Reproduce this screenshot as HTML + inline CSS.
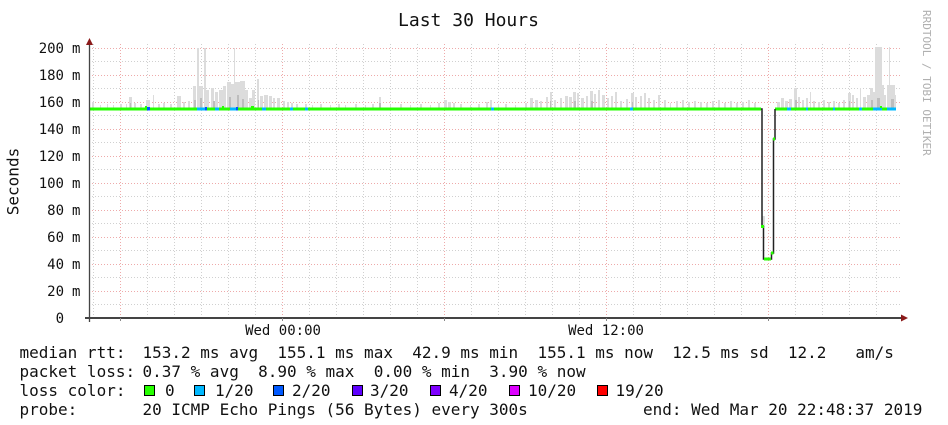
<!DOCTYPE html>
<html><head><meta charset="utf-8"><style>
html,body{margin:0;padding:0;background:#fff;}
svg{display:block;}
text{font-family:"DejaVu Sans Mono","Liberation Mono",monospace;fill:#111;}
</style></head><body>
<svg width="948" height="425" viewBox="0 0 948 425" xmlns="http://www.w3.org/2000/svg">
<rect width="948" height="425" fill="#fff"/>
<text x="468.5" y="26" font-size="18" text-anchor="middle">Last 30 Hours</text>
<text transform="translate(923,10) rotate(90)" font-size="11" style="fill:#b0b0b0">RRDTOOL / TOBI OETIKER</text>
<text transform="translate(18.5,181.5) rotate(-90)" font-size="16" text-anchor="middle">Seconds</text>

<!-- minor horizontal grid -->
<g stroke="#d0d0d0" stroke-width="1" stroke-dasharray="1 2">
<line x1="89" x2="902" y1="304.5" y2="304.5"/><line x1="89" x2="902" y1="277.5" y2="277.5"/><line x1="89" x2="902" y1="250.5" y2="250.5"/><line x1="89" x2="902" y1="223.5" y2="223.5"/><line x1="89" x2="902" y1="196.5" y2="196.5"/><line x1="89" x2="902" y1="169.5" y2="169.5"/><line x1="89" x2="902" y1="142.5" y2="142.5"/><line x1="89" x2="902" y1="115.5" y2="115.5"/><line x1="89" x2="902" y1="88.5" y2="88.5"/><line x1="89" x2="902" y1="61.5" y2="61.5"/>
</g>
<!-- minor vertical grid -->
<g stroke="#d0d0d0" stroke-width="1" stroke-dasharray="1 2">
<line x1="93.5" x2="93.5" y1="44" y2="318"/><line x1="147.5" x2="147.5" y1="44" y2="318"/><line x1="174.5" x2="174.5" y1="44" y2="318"/><line x1="201.5" x2="201.5" y1="44" y2="318"/><line x1="228.5" x2="228.5" y1="44" y2="318"/><line x1="255.5" x2="255.5" y1="44" y2="318"/><line x1="309.5" x2="309.5" y1="44" y2="318"/><line x1="336.5" x2="336.5" y1="44" y2="318"/><line x1="363.5" x2="363.5" y1="44" y2="318"/><line x1="390.5" x2="390.5" y1="44" y2="318"/><line x1="417.5" x2="417.5" y1="44" y2="318"/><line x1="471.5" x2="471.5" y1="44" y2="318"/><line x1="498.5" x2="498.5" y1="44" y2="318"/><line x1="525.5" x2="525.5" y1="44" y2="318"/><line x1="552.5" x2="552.5" y1="44" y2="318"/><line x1="579.5" x2="579.5" y1="44" y2="318"/><line x1="633.5" x2="633.5" y1="44" y2="318"/><line x1="660.5" x2="660.5" y1="44" y2="318"/><line x1="687.5" x2="687.5" y1="44" y2="318"/><line x1="714.5" x2="714.5" y1="44" y2="318"/><line x1="741.5" x2="741.5" y1="44" y2="318"/><line x1="795.5" x2="795.5" y1="44" y2="318"/><line x1="822.5" x2="822.5" y1="44" y2="318"/><line x1="849.5" x2="849.5" y1="44" y2="318"/><line x1="876.5" x2="876.5" y1="44" y2="318"/>
</g>
<!-- major grid -->
<g stroke="#eeaaaa" stroke-width="1" stroke-dasharray="1 2">
<line x1="89" x2="902" y1="291.5" y2="291.5"/><line x1="89" x2="902" y1="264.5" y2="264.5"/><line x1="89" x2="902" y1="237.5" y2="237.5"/><line x1="89" x2="902" y1="210.5" y2="210.5"/><line x1="89" x2="902" y1="183.5" y2="183.5"/><line x1="89" x2="902" y1="156.5" y2="156.5"/><line x1="89" x2="902" y1="129.5" y2="129.5"/><line x1="89" x2="902" y1="102.5" y2="102.5"/><line x1="89" x2="902" y1="75.5" y2="75.5"/><line x1="89" x2="902" y1="48.5" y2="48.5"/>
<line x1="120.5" x2="120.5" y1="44" y2="318"/><line x1="282.5" x2="282.5" y1="44" y2="318"/><line x1="444.5" x2="444.5" y1="44" y2="318"/><line x1="606.5" x2="606.5" y1="44" y2="318"/><line x1="768.5" x2="768.5" y1="44" y2="318"/>
</g>

<!-- smoke -->
<g fill="#dcdcdc">
<rect x="92" y="102" width="2" height="7"/><rect x="100" y="105" width="1" height="4"/><rect x="107" y="104" width="1" height="5"/><rect x="113" y="105" width="1" height="4"/><rect x="120" y="104" width="2" height="5"/><rect x="126" y="104" width="1" height="5"/><rect x="129" y="97" width="3" height="12"/><rect x="134" y="103" width="2" height="6"/><rect x="140" y="104" width="2" height="5"/><rect x="146" y="100" width="4" height="9"/><rect x="153" y="95" width="1" height="14"/><rect x="158" y="104" width="2" height="5"/><rect x="163" y="103" width="2" height="6"/><rect x="170" y="104" width="2" height="5"/><rect x="177" y="96" width="4" height="13"/><rect x="183" y="102" width="2" height="7"/><rect x="188" y="101" width="2" height="8"/><rect x="193" y="86" width="3" height="23"/><rect x="197" y="48" width="2" height="61"/><rect x="199" y="86" width="4" height="23"/><rect x="204" y="48" width="2" height="61"/><rect x="206" y="90" width="3" height="19"/><rect x="211" y="88" width="3" height="21"/><rect x="215" y="92" width="3" height="17"/><rect x="219" y="90" width="4" height="19"/><rect x="223" y="86" width="3" height="23"/><rect x="227" y="82" width="4" height="27"/><rect x="231" y="84" width="3" height="25"/><rect x="234" y="48" width="1" height="61"/><rect x="235" y="82" width="5" height="27"/><rect x="240" y="81" width="5" height="28"/><rect x="245" y="90" width="3" height="19"/><rect x="249" y="98" width="3" height="11"/><rect x="252" y="90" width="3" height="19"/><rect x="257" y="79" width="2" height="30"/><rect x="260" y="96" width="3" height="13"/><rect x="264" y="95" width="4" height="14"/><rect x="269" y="96" width="3" height="13"/><rect x="273" y="98" width="2" height="11"/><rect x="277" y="98" width="3" height="11"/><rect x="283" y="101" width="2" height="8"/><rect x="287" y="102" width="2" height="7"/><rect x="291" y="103" width="2" height="6"/><rect x="296" y="104" width="2" height="5"/>
<rect x="305" y="104" width="2" height="5"/><rect x="312" y="105" width="1" height="4"/><rect x="320" y="104" width="2" height="5"/><rect x="330" y="105" width="1" height="4"/><rect x="338" y="104" width="2" height="5"/><rect x="345" y="105" width="1" height="4"/><rect x="355" y="104" width="2" height="5"/><rect x="365" y="105" width="1" height="4"/><rect x="372" y="104" width="2" height="5"/><rect x="379" y="97" width="2" height="12"/><rect x="390" y="105" width="1" height="4"/><rect x="400" y="104" width="2" height="5"/><rect x="410" y="105" width="1" height="4"/><rect x="420" y="104" width="2" height="5"/><rect x="430" y="105" width="1" height="4"/><rect x="438" y="103" width="2" height="6"/><rect x="444" y="100" width="3" height="9"/><rect x="448" y="102" width="3" height="7"/><rect x="453" y="103" width="2" height="6"/><rect x="460" y="104" width="2" height="5"/><rect x="470" y="105" width="1" height="4"/><rect x="478" y="104" width="2" height="5"/><rect x="486" y="102" width="2" height="7"/><rect x="490" y="100" width="2" height="9"/><rect x="498" y="104" width="1" height="5"/><rect x="505" y="104" width="2" height="5"/><rect x="515" y="105" width="1" height="4"/><rect x="525" y="103" width="2" height="6"/><rect x="530" y="98" width="3" height="11"/><rect x="535" y="100" width="3" height="9"/><rect x="540" y="101" width="2" height="8"/><rect x="546" y="97" width="2" height="12"/><rect x="550" y="92" width="2" height="17"/><rect x="554" y="100" width="2" height="9"/><rect x="560" y="98" width="2" height="11"/><rect x="565" y="96" width="3" height="13"/><rect x="569" y="97" width="3" height="12"/><rect x="573" y="92" width="3" height="17"/><rect x="577" y="93" width="2" height="16"/><rect x="581" y="98" width="3" height="11"/><rect x="586" y="96" width="2" height="13"/><rect x="590" y="91" width="3" height="18"/><rect x="594" y="94" width="2" height="15"/><rect x="598" y="90" width="2" height="19"/><rect x="602" y="95" width="3" height="14"/><rect x="607" y="98" width="2" height="11"/><rect x="611" y="96" width="2" height="13"/><rect x="615" y="92" width="2" height="17"/><rect x="620" y="101" width="2" height="8"/><rect x="626" y="99" width="2" height="10"/><rect x="631" y="93" width="3" height="16"/><rect x="635" y="97" width="2" height="12"/><rect x="640" y="96" width="2" height="13"/><rect x="644" y="93" width="2" height="16"/><rect x="648" y="98" width="2" height="11"/><rect x="653" y="100" width="2" height="9"/><rect x="658" y="95" width="2" height="14"/><rect x="664" y="100" width="2" height="9"/><rect x="670" y="103" width="1" height="6"/><rect x="676" y="101" width="2" height="8"/><rect x="682" y="100" width="2" height="9"/><rect x="688" y="102" width="2" height="7"/><rect x="694" y="101" width="2" height="8"/><rect x="700" y="102" width="2" height="7"/><rect x="706" y="103" width="2" height="6"/><rect x="712" y="101" width="2" height="8"/><rect x="718" y="100" width="2" height="9"/><rect x="724" y="103" width="2" height="6"/><rect x="730" y="101" width="2" height="8"/><rect x="736" y="103" width="2" height="6"/><rect x="742" y="102" width="2" height="7"/><rect x="748" y="100" width="2" height="9"/><rect x="754" y="103" width="2" height="6"/>
<rect x="762" y="216" width="3" height="11"/>
<rect x="777" y="102" width="3" height="7"/><rect x="781" y="98" width="3" height="11"/><rect x="785" y="101" width="3" height="8"/><rect x="789" y="99" width="3" height="10"/><rect x="794" y="88" width="3" height="21"/><rect x="798" y="97" width="2" height="12"/><rect x="802" y="100" width="2" height="9"/><rect x="806" y="98" width="2" height="11"/><rect x="810" y="92" width="1" height="17"/><rect x="813" y="101" width="2" height="8"/><rect x="818" y="102" width="2" height="7"/><rect x="823" y="100" width="2" height="9"/><rect x="828" y="102" width="2" height="7"/><rect x="833" y="101" width="2" height="8"/><rect x="838" y="103" width="2" height="6"/><rect x="843" y="100" width="2" height="9"/><rect x="848" y="93" width="3" height="16"/><rect x="852" y="95" width="2" height="14"/><rect x="856" y="98" width="2" height="11"/><rect x="860" y="88" width="1" height="21"/><rect x="863" y="97" width="3" height="12"/><rect x="867" y="95" width="3" height="14"/><rect x="870" y="88" width="3" height="21"/><rect x="873" y="92" width="2" height="17"/><rect x="875" y="47" width="7" height="62"/><rect x="882" y="85" width="2" height="24"/><rect x="884" y="95" width="2" height="14"/><rect x="887" y="85" width="2" height="24"/><rect x="889" y="47" width="1" height="62"/><rect x="890" y="85" width="5" height="24"/><rect x="895" y="95" width="1" height="14"/>
</g>
<g fill="#bdbdbd">
<rect x="194" y="100" width="2" height="9"/><rect x="200" y="98" width="2" height="11"/><rect x="229" y="97" width="2" height="12"/><rect x="237" y="95" width="2" height="14"/><rect x="242" y="99" width="2" height="10"/><rect x="213" y="101" width="2" height="8"/><rect x="258" y="100" width="1" height="9"/><rect x="574" y="101" width="2" height="8"/><rect x="591" y="101" width="2" height="8"/><rect x="632" y="102" width="1" height="7"/><rect x="795" y="100" width="2" height="9"/><rect x="871" y="100" width="2" height="9"/><rect x="877" y="98" width="3" height="11"/><rect x="891" y="99" width="3" height="10"/><rect x="130" y="103" width="1" height="6"/><rect x="379" y="103" width="2" height="6"/><rect x="550" y="101" width="1" height="8"/><rect x="849" y="101" width="1" height="8"/>
</g>

<!-- median line -->
<g fill="#26ff00">
<rect x="90" y="107.5" width="671" height="3"/>
<rect x="775" y="107.5" width="121" height="3"/>
</g>
<g fill="#00b8ff">
<rect x="197" y="107.5" width="8" height="3"/><rect x="215" y="107.5" width="4" height="3"/><rect x="230" y="107.5" width="6" height="3"/><rect x="262" y="107.5" width="4" height="3"/><rect x="290" y="107.5" width="3" height="3"/><rect x="305" y="107.5" width="3" height="3"/><rect x="491" y="107.5" width="3" height="3"/><rect x="630" y="107.5" width="3" height="3"/><rect x="787" y="107.5" width="4" height="3"/><rect x="806" y="107.5" width="2" height="3"/><rect x="833" y="107.5" width="2" height="3"/><rect x="859" y="107.5" width="3" height="3"/><rect x="873" y="107.5" width="9" height="3"/><rect x="887" y="107.5" width="9" height="3"/>
</g>
<g fill="#0059ff">
<rect x="147" y="107" width="3" height="3.5"/><rect x="205" y="107" width="2" height="3.5"/><rect x="236" y="107" width="2" height="3.5"/>
</g>
<g fill="#26ff00">
<rect x="145" y="106" width="2" height="2"/><rect x="222" y="106" width="2" height="2"/><rect x="251" y="106" width="3" height="2"/><rect x="880" y="106" width="2" height="2"/>
</g>
<!-- dip -->
<polyline points="761,109 762,109 762,227 763.5,227 763.5,259 771.5,259 771.5,253 773.5,253 773.5,139 775,139 775,109" fill="none" stroke="#222" stroke-width="1.5"/>
<g fill="#26ff00">
<rect x="761" y="225" width="3" height="3"/><rect x="764" y="257.5" width="7" height="3"/><rect x="771" y="251.5" width="2.5" height="3"/><rect x="773" y="137.5" width="2" height="3"/>
</g>

<!-- axes -->
<line x1="89.5" y1="44" x2="89.5" y2="322" stroke="#444" stroke-width="1.3"/>
<line x1="85" y1="318" x2="902" y2="318" stroke="#444" stroke-width="2"/>
<polygon points="89.5,38 86,45 93,45" fill="#8b1a1a"/>
<polygon points="908,318 901,314.5 901,321.5" fill="#8b1a1a"/>
<g stroke="#888" stroke-width="1">
<line x1="120.5" x2="120.5" y1="318" y2="321"/><line x1="282.5" x2="282.5" y1="318" y2="321"/><line x1="444.5" x2="444.5" y1="318" y2="321"/><line x1="606.5" x2="606.5" y1="318" y2="321"/><line x1="768.5" x2="768.5" y1="318" y2="321"/>
</g>

<!-- y labels -->
<g font-size="14">
<text x="64" y="53" text-anchor="end">200</text><text x="72" y="53">m</text>
<text x="64" y="80" text-anchor="end">180</text><text x="72" y="80">m</text>
<text x="64" y="107" text-anchor="end">160</text><text x="72" y="107">m</text>
<text x="64" y="134" text-anchor="end">140</text><text x="72" y="134">m</text>
<text x="64" y="161" text-anchor="end">120</text><text x="72" y="161">m</text>
<text x="64" y="188" text-anchor="end">100</text><text x="72" y="188">m</text>
<text x="64" y="215" text-anchor="end">80</text><text x="72" y="215">m</text>
<text x="64" y="242" text-anchor="end">60</text><text x="72" y="242">m</text>
<text x="64" y="269" text-anchor="end">40</text><text x="72" y="269">m</text>
<text x="64" y="296" text-anchor="end">20</text><text x="72" y="296">m</text>
<text x="64" y="323" text-anchor="end">0</text>
<text x="283" y="335" text-anchor="middle">Wed 00:00</text>
<text x="606" y="335" text-anchor="middle">Wed 12:00</text>
</g>

<!-- legend -->
<g font-size="16">
<text x="19.5" y="358">median rtt:</text>
<text x="142.5" y="358" xml:space="preserve">153.2 ms avg  155.1 ms max  42.9 ms min  155.1 ms now  12.5 ms sd  12.2   am/s</text>

<text x="19.5" y="377">packet loss:</text>
<text x="142.5" y="377" xml:space="preserve">0.37 % avg  8.90 % max  0.00 % min  3.90 % now</text>

<text x="19.5" y="396">loss color:</text>
<text x="165" y="396">0</text>
<text x="215" y="396">1/20</text>
<text x="292" y="396">2/20</text>
<text x="370" y="396">3/20</text>
<text x="449" y="396">4/20</text>
<text x="528" y="396">10/20</text>
<text x="615.5" y="396">19/20</text>

<text x="19.5" y="415">probe:</text>
<text x="142.5" y="415">20 ICMP Echo Pings (56 Bytes) every 300s</text>
<text x="643" y="415">end: Wed Mar 20 22:48:37 2019</text>
</g>
<g stroke="#000" stroke-width="1">
<rect x="144.5" y="385.5" width="10" height="10" fill="#26ff00"/>
<rect x="194.5" y="385.5" width="10" height="10" fill="#00b8ff"/>
<rect x="273.5" y="385.5" width="10" height="10" fill="#0059ff"/>
<rect x="352.5" y="385.5" width="10" height="10" fill="#5e00ff"/>
<rect x="430.5" y="385.5" width="10" height="10" fill="#7e00ff"/>
<rect x="509.5" y="385.5" width="10" height="10" fill="#dd00ff"/>
<rect x="597.5" y="385.5" width="10" height="10" fill="#ff0000"/>
</g>
</svg>
</body></html>
